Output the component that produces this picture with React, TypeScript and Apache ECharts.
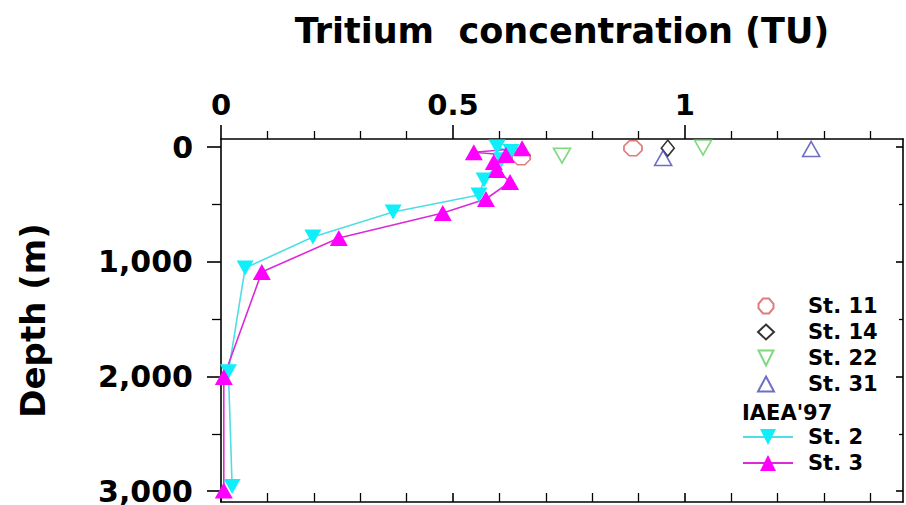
import React, { useEffect, useRef } from 'react';
import * as echarts from 'echarts';

// Tritium (TU) vs depth (m)
const st11Tu = [0.888, 0.647];
const st11Depth = [10, 90];
const st14Tu = [0.963];
const st14Depth = [10];
const st22Tu = [0.735, 1.039];
const st22Depth = [75, 5];
const st31Tu = [1.272, 0.953];
const st31Depth = [17, 95];

const st2Tu = [0.595, 0.625, 0.605, 0.567, 0.556, 0.371, 0.198, 0.052, 0.016, 0.024];
const st2Depth = [0, 40, 110, 288, 418, 567, 785, 1055, 1960, 2960];
const st3Tu = [0.649, 0.545, 0.614, 0.588, 0.595, 0.623, 0.571, 0.478, 0.254, 0.088, 0.006, 0.006];
const st3Depth = [10, 45, 70, 130, 200, 305, 453, 575, 793, 1090, 2005, 2995];

const xLabelValues = [0, 0.5, 1];
const xMajorTicks = [0, 0.5, 1];
const yMajorTicks = [0, 1000, 2000, 3000];
const legendOpen = ['St. 11', 'St. 14', 'St. 22', 'St. 31'];
const legendIaea = ['St. 2', 'St. 3'];

const FONT = 'DejaVu Sans';
const DOWN_TRI = 'path://M0,0 L10,0 L5,10 Z';
const OCT = 'path://M30,0 L70,0 L100,35 L100,65 L70,100 L30,100 L0,65 L0,35 Z';

const zip = (xs: number[], ys: number[]) => xs.map((x, i) => [x, ys[i]]);
const axisLineStyle = { color: '#000', width: 1.6 };

const openScatter = (name: string, xs: number[], ys: number[], symbol: string, size: number[], color: string) => ({
  name,
  type: 'scatter',
  xAxisIndex: 0,
  yAxisIndex: 0,
  data: zip(xs, ys),
  symbol,
  symbolSize: size,
  itemStyle: { color: 'rgba(255,255,255,0)', borderColor: color, borderWidth: 1.6 },
});

const xAxisBase = {
  type: 'value',
  min: 0,
  max: 1.47,
  interval: 0.5,
  splitLine: { show: false },
  minorSplitLine: { show: false },
};

const yAxisBase = {
  type: 'value',
  inverse: true,
  min: -70,
  max: 3095,
  splitNumber: 3,
  splitLine: { show: false },
  minorSplitLine: { show: false },
};

const option: any = {
  animation: false,
  backgroundColor: '#ffffff',
  grid: { left: 221, right: 3, top: 139, bottom: 3, outerBoundsMode: 'none' },
  xAxis: [
    {
      ...xAxisBase,
      position: 'top',
      name: 'Tritium  concentration (TU)',
      nameLocation: 'middle',
      nameGap: 91,
      nameMoveOverlap: false,
      nameTextStyle: { fontFamily: FONT, fontWeight: 'bold', fontSize: 35, color: '#000' },
      axisLine: { show: true, onZero: false, lineStyle: axisLineStyle },
      axisTick: { show: true, inside: false, length: 14, customValues: xMajorTicks, lineStyle: axisLineStyle },
      minorTick: { show: true, splitNumber: 5, length: 8, lineStyle: { color: '#000', width: 1.3 } },
      axisLabel: {
        show: true,
        customValues: xLabelValues,
        margin: 20,
        fontFamily: FONT,
        fontWeight: 'bold',
        fontSize: 29,
        color: '#000',
        formatter: (v: number) => String(v),
      },
    },
    {
      ...xAxisBase,
      position: 'bottom',
      axisLine: { show: true, onZero: false, lineStyle: axisLineStyle },
      axisTick: { show: true, inside: true, length: 9, customValues: xMajorTicks, lineStyle: axisLineStyle },
      minorTick: { show: true, splitNumber: 5, length: 9, lineStyle: { color: '#000', width: 1.3 } },
      axisLabel: { show: false },
    },
  ],
  yAxis: [
    {
      ...yAxisBase,
      position: 'left',
      name: 'Depth (m)',
      nameLocation: 'middle',
      nameRotate: 90,
      nameGap: 171,
      nameMoveOverlap: false,
      nameTextStyle: { fontFamily: FONT, fontWeight: 'bold', fontSize: 34, color: '#000' },
      axisLine: { show: true, onZero: false, lineStyle: axisLineStyle },
      axisTick: { show: true, inside: false, length: 14, customValues: yMajorTicks, lineStyle: axisLineStyle },
      minorTick: { show: true, splitNumber: 2, length: 9, lineStyle: { color: '#000', width: 1.3 } },
      axisLabel: {
        show: true,
        customValues: yMajorTicks,
        margin: 28,
        fontFamily: FONT,
        fontWeight: 'bold',
        fontSize: 30,
        color: '#000',
        formatter: (v: number) => v.toLocaleString('en-US'),
      },
    },
    {
      ...yAxisBase,
      position: 'right',
      axisLine: { show: true, onZero: false, lineStyle: axisLineStyle },
      axisTick: { show: true, inside: true, length: 7, customValues: yMajorTicks, lineStyle: axisLineStyle },
      minorTick: { show: true, splitNumber: 2, length: 4, lineStyle: { color: '#000', width: 1.3 } },
      axisLabel: { show: false },
    },
  ],
  legend: [
    {
      orient: 'vertical',
      left: 757,
      top: 295.5,
      padding: 0,
      itemWidth: 16,
      itemHeight: 15,
      itemGap: 5,
      data: legendOpen,
      textStyle: { fontFamily: FONT, fontWeight: 'bold', fontSize: 21, lineHeight: 21, color: '#000', padding: [0, 0, 0, 29] },
    },
    {
      orient: 'vertical',
      left: 742,
      top: 426.5,
      padding: 0,
      itemWidth: 50,
      itemHeight: 20,
      itemGap: 5,
      data: legendIaea,
      textStyle: { fontFamily: FONT, fontWeight: 'bold', fontSize: 21, lineHeight: 21, color: '#000', padding: [0, 0, 0, 10] },
    },
  ],
  graphic: [
    {
      type: 'text',
      left: 742,
      top: 402,
      style: { text: "IAEA'97", fontFamily: FONT, fontWeight: 'bold', fontSize: 21, fill: '#000' },
    },
  ],
  series: [
    openScatter('St. 11', st11Tu, st11Depth, OCT, [18, 15], '#d85a5a'),
    openScatter('St. 14', st14Tu, st14Depth, 'diamond', [13, 16], '#000000'),
    openScatter('St. 22', st22Tu, st22Depth, DOWN_TRI, [17, 15], '#5fcf5f'),
    openScatter('St. 31', st31Tu, st31Depth, 'triangle', [17, 15], '#4a4ab8'),
    {
      name: 'St. 2',
      type: 'line',
      xAxisIndex: 0,
      yAxisIndex: 0,
      data: zip(st2Tu, st2Depth),
      symbol: DOWN_TRI,
      symbolSize: [17, 15],
      showAllSymbol: true,
      itemStyle: { color: '#10eefa' },
      lineStyle: { color: '#4fdde6', width: 1.6 },
    },
    {
      name: 'St. 3',
      type: 'line',
      xAxisIndex: 0,
      yAxisIndex: 0,
      data: zip(st3Tu, st3Depth),
      symbol: 'triangle',
      symbolSize: [18, 16],
      showAllSymbol: true,
      itemStyle: { color: '#ff00ff' },
      lineStyle: { color: '#dd2ad8', width: 1.6 },
    },
  ],
};

export default function App() {
  const ref = useRef<HTMLDivElement>(null);
  useEffect(() => {
    const chart = echarts.init(ref.current as HTMLDivElement, null, { renderer: 'svg' });
    chart.setOption(option);
    return () => chart.dispose();
  }, []);
  return <div ref={ref} style={{ position: 'fixed', left: 0, top: 0, width: 906, height: 505 }} />;
}
